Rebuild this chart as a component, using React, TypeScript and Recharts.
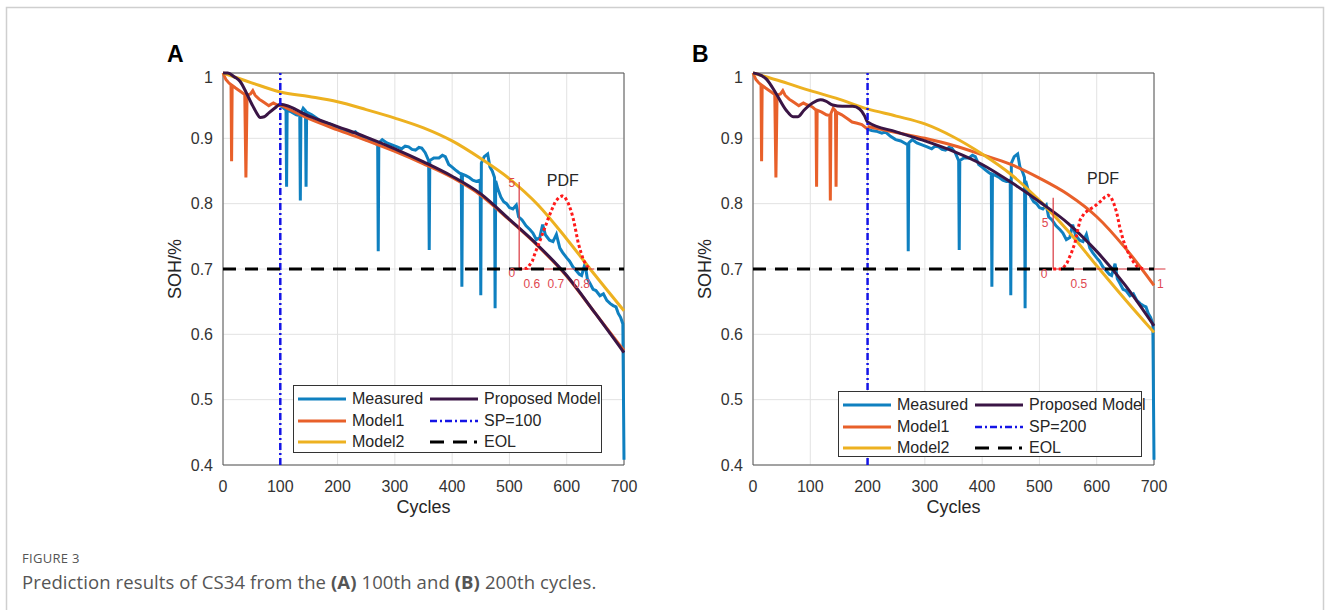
import React from "react";
import {
  LineChart,
  Line,
  XAxis,
  YAxis,
  CartesianGrid,
  ReferenceLine,
  ReferenceDot,
  ReferenceArea,
  Legend,
  Label,
} from "recharts";

type Pt = [number, number];

const FONT = "Arial, 'Liberation Sans', sans-serif";

const xTicks = [0, 100, 200, 300, 400, 500, 600, 700];
const yTicks = [0.4, 0.5, 0.6, 0.7, 0.8, 0.9, 1];
const eolLevel = 0.7;

// measured SOH (cycle, SOH), spikes are the capacity dips
const measured: Pt[] = [
  [0, 1.0], [5, 0.99], [10, 0.985], [14, 0.982], [15, 0.865], [16, 0.981],
  [22, 0.977], [30, 0.972], [38, 0.967], [40, 0.84], [42, 0.966], [48, 0.968],
  [52, 0.973], [56, 0.966], [63, 0.96], [70, 0.956], [80, 0.95], [88, 0.954],
  [95, 0.951], [100, 0.95], [105, 0.947], [110, 0.943], [111, 0.826], [112, 0.943],
  [120, 0.94], [128, 0.936], [134, 0.935], [135, 0.805], [136, 0.938], [140, 0.946],
  [144, 0.942], [145, 0.826], [146, 0.94], [155, 0.936], [165, 0.93], [173, 0.925],
  [182, 0.923], [190, 0.921], [200, 0.914], [207, 0.912], [215, 0.911], [225, 0.908],
  [231, 0.91], [240, 0.903], [249, 0.898], [258, 0.896], [266, 0.892], [270, 0.89],
  [271, 0.727], [272, 0.893], [278, 0.898], [286, 0.893], [295, 0.89], [304, 0.887],
  [312, 0.884], [318, 0.888], [324, 0.887], [330, 0.883], [336, 0.882], [342, 0.886],
  [347, 0.885], [353, 0.878], [359, 0.866], [360, 0.729], [361, 0.866], [368, 0.87],
  [377, 0.87], [383, 0.874], [388, 0.872], [394, 0.86], [400, 0.856], [405, 0.852],
  [411, 0.848], [416, 0.845], [417, 0.673], [418, 0.845], [424, 0.843], [430, 0.84],
  [436, 0.836], [442, 0.834], [449, 0.836], [450, 0.66], [451, 0.862], [456, 0.872],
  [462, 0.876], [466, 0.856], [470, 0.85], [474, 0.84], [475, 0.64], [476, 0.835],
  [480, 0.822], [485, 0.81], [490, 0.803], [495, 0.8], [500, 0.794], [506, 0.792],
  [512, 0.798], [516, 0.78], [522, 0.775], [529, 0.766], [536, 0.76], [541, 0.755],
  [547, 0.745], [553, 0.748], [558, 0.768], [563, 0.752], [570, 0.744], [576, 0.742],
  [582, 0.753], [588, 0.732], [593, 0.725], [600, 0.717], [605, 0.712], [611, 0.703],
  [616, 0.698], [622, 0.692], [626, 0.69], [632, 0.708], [636, 0.685], [640, 0.679],
  [646, 0.669], [651, 0.667], [658, 0.659], [664, 0.662], [670, 0.652], [676, 0.647],
  [681, 0.644], [686, 0.642], [690, 0.632], [694, 0.626], [698, 0.616], [700, 0.408],
];

// panel A (prediction from cycle 100)
const proposedA: Pt[] = [
  [0, 1.0], [8, 1.0], [20, 0.994], [30, 0.987], [40, 0.971], [50, 0.953],
  [58, 0.94], [65, 0.932], [72, 0.933], [80, 0.939], [90, 0.946], [100, 0.952],
  [150, 0.934], [200, 0.918], [250, 0.902], [300, 0.884], [350, 0.864],
  [400, 0.842], [450, 0.815], [500, 0.776], [550, 0.736], [600, 0.69],
  [650, 0.632], [700, 0.572],
];
const model1A: Pt[] = [
  [100, 0.951], [150, 0.93], [200, 0.913], [250, 0.897], [300, 0.88],
  [350, 0.861], [400, 0.84], [450, 0.813], [500, 0.775], [550, 0.735],
  [600, 0.689], [650, 0.632], [700, 0.575],
];
const model2A: Pt[] = [
  [0, 1.0], [50, 0.985], [100, 0.971], [150, 0.964], [200, 0.956], [250, 0.944],
  [300, 0.931], [350, 0.916], [400, 0.896], [450, 0.869], [500, 0.838],
  [550, 0.798], [600, 0.746], [650, 0.69], [700, 0.636],
];
const pdfA: Pt[] = [
  [517, 0.7], [531, 0.701], [540, 0.712], [545, 0.725], [551, 0.738], [557, 0.752],
  [563, 0.766], [568, 0.778], [574, 0.791], [580, 0.803], [587, 0.81], [592, 0.812],
  [597, 0.81], [603, 0.8], [608, 0.788], [612, 0.775], [616, 0.758], [620, 0.74],
  [625, 0.725], [629, 0.714], [635, 0.705], [641, 0.7],
];
const pdfTicksA = [
  { text: "5", cycle: 504, soh: 0.832 },
  { text: "0", cycle: 504, soh: 0.694 },
  { text: "0.6", cycle: 539, soh: 0.677 },
  { text: "0.7", cycle: 581, soh: 0.677 },
  { text: "0.8", cycle: 626, soh: 0.677 },
];

// panel B (prediction from cycle 200)
const proposedB: Pt[] = [
  [0, 1.0], [10, 0.998], [23, 0.991], [40, 0.969], [58, 0.943], [70, 0.933],
  [78, 0.933], [89, 0.943], [104, 0.954], [118, 0.959], [127, 0.957], [139, 0.951],
  [156, 0.949], [174, 0.949], [186, 0.945], [195, 0.934], [200, 0.925],
  [250, 0.91], [300, 0.896], [350, 0.88], [400, 0.86], [450, 0.833],
  [500, 0.803], [550, 0.77], [600, 0.727], [650, 0.675], [700, 0.613],
];
const model1B: Pt[] = [
  [200, 0.918], [250, 0.909], [300, 0.9], [350, 0.889], [400, 0.875],
  [450, 0.86], [500, 0.839], [550, 0.814], [600, 0.78], [650, 0.732], [700, 0.675],
];
const model2B: Pt[] = [
  [0, 1.0], [50, 0.987], [100, 0.973], [150, 0.96], [200, 0.945], [250, 0.934],
  [300, 0.922], [350, 0.902], [400, 0.876], [450, 0.845], [500, 0.805],
  [550, 0.758], [600, 0.705], [650, 0.653], [700, 0.603],
];
const pdfB: Pt[] = [
  [524, 0.7], [540, 0.7], [548, 0.709], [556, 0.725], [562, 0.74], [567, 0.76],
  [571, 0.775], [578, 0.785], [585, 0.79], [595, 0.795], [606, 0.803], [614, 0.81],
  [620, 0.813], [625, 0.81], [630, 0.8], [635, 0.786], [640, 0.765], [646, 0.745],
  [652, 0.73], [658, 0.72], [664, 0.711], [670, 0.704], [681, 0.7],
];
const pdfTicksB = [
  { text: "5", cycle: 510, soh: 0.771 },
  { text: "0", cycle: 508, soh: 0.693 },
  { text: "0.5", cycle: 569, soh: 0.677 },
  { text: "1", cycle: 711, soh: 0.677 },
];

const C = {
  measured: "#0f80c0",
  model1: "#e8602a",
  model2: "#edb120",
  proposed: "#3a1545",
  sp: "#1414e6",
  eol: "#000000",
  pdf: "#ff1a1a",
  pdfAxis: "#d9363e",
};

const pts = (arr: Pt[]) => arr.map(([x, y]) => ({ x, y }));

const panels = [
  {
    name: "A",
    sp: 100,
    proposed: proposedA,
    model1: model1A,
    model2: model2A,
    pdf: pdfA,
    pdfTicks: pdfTicksA,
    pdfAxis: { cycle: 517, top: 0.833, end: 648 },
    pdfTitle: { cycle: 593, soh: 0.836 },
    left: 163,
    legend: { left: 130, top: 317, width: 309, height: 68 },
  },
  {
    name: "B",
    sp: 200,
    proposed: proposedB,
    model1: model1B,
    model2: model2B,
    pdf: pdfB,
    pdfTicks: pdfTicksB,
    pdfAxis: { cycle: 524, top: 0.809, end: 720 },
    pdfTitle: { cycle: 611, soh: 0.838 },
    left: 693,
    legend: { left: 145, top: 323, width: 304, height: 66 },
  },
];

const textShape = (value: string, color: string, size: number) => (p: any) => (
  <text
    x={p.cx}
    y={p.cy}
    fill={color}
    fontSize={size}
    fontFamily={FONT}
    textAnchor="middle"
    dominantBaseline="central"
  >
    {value}
  </text>
);

function LegendBox({ sp, width, height }: { sp: number; width: number; height: number }) {
  const rows = [
    [
      { label: "Measured", color: C.measured, dash: undefined, w: 3 },
      { label: "Proposed Model", color: C.proposed, dash: undefined, w: 3 },
    ],
    [
      { label: "Model1", color: C.model1, dash: undefined, w: 3 },
      { label: `SP=${sp}`, color: C.sp, dash: "7 3 2 3", w: 2.5 },
    ],
    [
      { label: "Model2", color: C.model2, dash: undefined, w: 3 },
      { label: "EOL", color: C.eol, dash: "14 9 14 7 3 20", w: 3 },
    ],
  ];
  return (
    <div
      style={{
        position: "relative",
        width,
        height,
        border: "1px solid #333",
        background: "#fff",
        boxSizing: "border-box",
        fontFamily: FONT,
        fontSize: 16,
        color: "#262626",
      }}
    >
      {rows.map((row, r) =>
        row.map((it, c) => (
          <div
            key={`${r}-${c}`}
            style={{
              position: "absolute",
              left: c === 0 ? 4 : 136,
              top: 2 + r * 21.5,
              height: 22,
              lineHeight: "22px",
              display: "flex",
              alignItems: "center",
              whiteSpace: "nowrap",
            }}
          >
            <svg width={48} height={22} style={{ marginRight: 6 }}>
              <line
                x1={0}
                y1={11}
                x2={48}
                y2={11}
                stroke={it.color}
                strokeWidth={it.w}
                strokeDasharray={it.dash}
              />
            </svg>
            <span>{it.label}</span>
          </div>
        ))
      )}
    </div>
  );
}

function Panel({ cfg }: { cfg: (typeof panels)[number] }) {
  const pre = measured.filter(([x]) => x <= cfg.sp);
  const post = measured.filter(([x]) => x >= cfg.sp);
  return (
    <div style={{ position: "absolute", left: cfg.left, top: 68 }}>
      <LineChart width={501} height={449} margin={{ top: 5, right: 40, bottom: 0, left: 0 }}>
        <CartesianGrid stroke="#e2e2e2" />
        <XAxis
          dataKey="x"
          type="number"
          domain={[0, 700]}
          ticks={xTicks}
          tickLine={false}
          axisLine={false}
          tickMargin={10}
          height={52}
          tick={{ fontSize: 16, fill: "#333", fontFamily: FONT }}
        >
          <Label
            value="Cycles"
            position="insideBottom"
            offset={4}
            style={{ fontSize: 18, fill: "#262626", fontFamily: FONT }}
          />
        </XAxis>
        <YAxis
          type="number"
          domain={[0.4, 1]}
          ticks={yTicks}
          width={60}
          tickLine={false}
          axisLine={false}
          tickMargin={4}
          tickFormatter={(v) => String(v)}
          tick={{ fontSize: 16, fill: "#333", fontFamily: FONT }}
        >
          <Label
            value="SOH/%"
            angle={-90}
            position="insideLeft"
            offset={12}
            style={{ textAnchor: "middle", fontSize: 18, fill: "#262626", fontFamily: FONT }}
          />
        </YAxis>
        <ReferenceArea x1={0} x2={700} y1={0.4} y2={1} fill="none" stroke="#555" strokeWidth={1} />

        <Line data={pts(post)} dataKey="y" type="linear" stroke={C.measured} strokeWidth={3} dot={false} activeDot={false} isAnimationActive={false} />
        <Line data={pts(pre)} dataKey="y" type="linear" stroke={C.model1} strokeWidth={3} dot={false} activeDot={false} isAnimationActive={false} />
        <Line data={pts(cfg.model1)} dataKey="y" type="monotone" stroke={C.model1} strokeWidth={3} dot={false} activeDot={false} isAnimationActive={false} />
        <Line data={pts(cfg.model2)} dataKey="y" type="monotone" stroke={C.model2} strokeWidth={3} dot={false} activeDot={false} isAnimationActive={false} />
        <Line data={pts(cfg.proposed)} dataKey="y" type="monotone" stroke={C.proposed} strokeWidth={3} dot={false} activeDot={false} isAnimationActive={false} />

        {/* PDF inset */}
        <ReferenceLine
          segment={[{ x: cfg.pdfAxis.cycle, y: eolLevel }, { x: cfg.pdfAxis.cycle, y: cfg.pdfAxis.top }]}
          stroke={C.pdfAxis}
          strokeWidth={1.2}
          ifOverflow="visible"
        />
        <ReferenceLine
          segment={[{ x: cfg.pdfAxis.cycle, y: eolLevel }, { x: cfg.pdfAxis.end, y: eolLevel }]}
          stroke={C.pdfAxis}
          strokeWidth={1.2}
          ifOverflow="visible"
        />
        <Line data={pts(cfg.pdf)} dataKey="y" type="linear" stroke={C.pdf} strokeWidth={3} strokeDasharray="3 2.5" dot={false} activeDot={false} isAnimationActive={false} />
        {cfg.pdfTicks.map((t) => (
          <ReferenceDot
            key={t.text + t.cycle}
            x={t.cycle}
            y={t.soh}
            r={1}
            ifOverflow="visible"
            shape={textShape(t.text, "#e0474f", 12)}
          />
        ))}
        <ReferenceDot
          x={cfg.pdfTitle.cycle}
          y={cfg.pdfTitle.soh}
          r={1}
          ifOverflow="visible"
          shape={textShape("PDF", "#262626", 16)}
        />

        <Line data={pts([[cfg.sp, 0.4], [cfg.sp, 1]])} dataKey="y" type="linear" stroke={C.sp} strokeWidth={2.5} strokeDasharray="7 3 2 3" dot={false} activeDot={false} isAnimationActive={false} />
        <Line data={pts([[0, eolLevel], [700, eolLevel]])} dataKey="y" type="linear" stroke={C.eol} strokeWidth={3} strokeDasharray="13 9" dot={false} activeDot={false} isAnimationActive={false} />

        <Legend
          layout="vertical"
          align="center"
          verticalAlign="middle"
          wrapperStyle={{
            position: "absolute",
            left: cfg.legend.left,
            top: cfg.legend.top,
            width: cfg.legend.width,
            height: cfg.legend.height,
          }}
          content={() => <LegendBox sp={cfg.sp} width={cfg.legend.width} height={cfg.legend.height} />}
        />
      </LineChart>
    </div>
  );
}

export default function App() {
  return (
    <div style={{ position: "absolute", left: 0, top: 0, width: 1330, height: 610, background: "#fff" }}>
      <svg width={1330} height={610} style={{ position: "absolute", left: 0, top: 0 }}>
        <path d="M6.5 610 V7.5 H1323.5 V610" fill="none" stroke="#cfcfcf" strokeWidth={1.5} />
        <text x={167} y={62} fontSize={23} fontWeight="bold" fontFamily={FONT} fill="#000">
          A
        </text>
        <text x={692} y={62} fontSize={23} fontWeight="bold" fontFamily={FONT} fill="#000">
          B
        </text>
        <text x={22} y={563} fontSize={13} fill="#555" fontFamily="'Open Sans', sans-serif" letterSpacing={0.3}>
          FIGURE 3
        </text>
        <text x={22} y={589} fontSize={18.5} fill="#555" fontFamily="'Open Sans', sans-serif" letterSpacing={0.1}>
          Prediction results of CS34 from the <tspan fontWeight="bold">(A)</tspan> 100th and{" "}
          <tspan fontWeight="bold">(B)</tspan> 200th cycles.
        </text>
      </svg>
      {panels.map((p) => (
        <Panel key={p.name} cfg={p} />
      ))}
    </div>
  );
}
